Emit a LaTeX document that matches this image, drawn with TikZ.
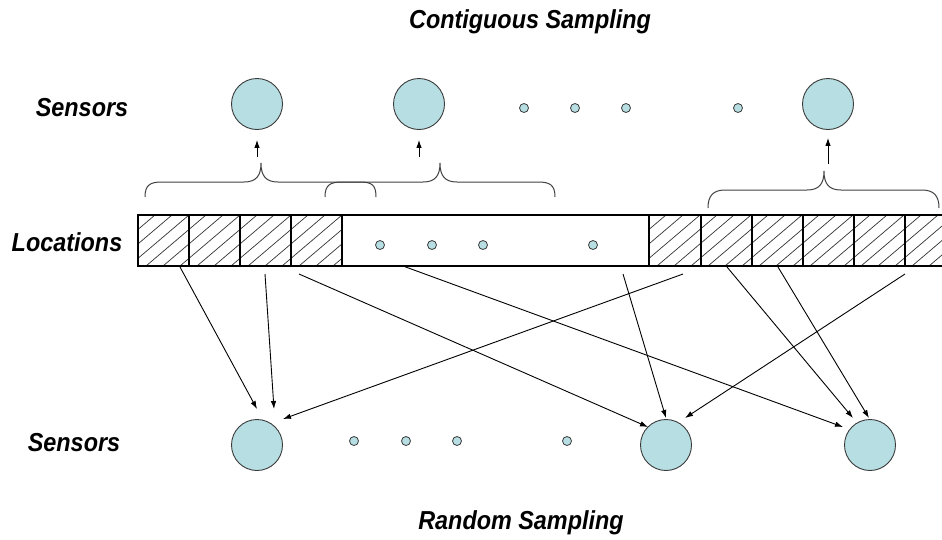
\documentclass[tikz,border=0pt]{standalone}
\usepackage{fontspec}
\usetikzlibrary{arrows.meta}
\newfontfamily\labfont{Liberation Sans}[FakeStretch=0.9]
\definecolor{sensorfill}{HTML}{B7DFE3}
\definecolor{sensoredge}{HTML}{3A3A3A}
\tikzset{
  lab/.style={font=\labfont\bfseries\itshape\fontsize{26}{26}\selectfont, inner sep=0pt},
  bigsensor/.style={circle, draw=sensoredge, line width=0.9pt, fill=sensorfill, minimum size=51pt, inner sep=0pt},
  smalldot/.style={circle, draw=sensoredge, line width=0.8pt, fill=sensorfill, minimum size=9pt, inner sep=0pt},
  arr/.style={draw=black, line width=0.9pt, -{Latex[length=8pt,width=5.5pt]}},
  bracepath/.style={draw=black!75, line width=1pt},
  strip/.style={draw=black, line width=1.1pt},
  hatch/.style={draw=black!80, line width=0.7pt}
}
\begin{document}
\begin{tikzpicture}[x=1pt,y=-1pt]
\useasboundingbox (0,0) rectangle (942,539);
% titles and labels
\node[lab] (title1) at (530,22) {Contiguous Sampling};
\node[lab] (sensTop) at (82,108) {Sensors};
\node[lab] (locs) at (67,242) {Locations};
\node[lab] (sensBot) at (74,443) {Sensors};
\node[lab] (title2) at (521,523) {Random Sampling};
% top sensors
\node[bigsensor] (t1) at (257,104) {};
\node[bigsensor] (t2) at (419,104) {};
\node[bigsensor] (t3) at (828,104) {};
\node[smalldot] (td1) at (524,108) {};
\node[smalldot] (td2) at (575,108) {};
\node[smalldot] (td3) at (626,108) {};
\node[smalldot] (td4) at (738,108) {};
% bottom sensors
\node[bigsensor] (b1) at (257,445) {};
\node[bigsensor] (b2) at (666,445) {};
\node[bigsensor] (b3) at (870,445) {};
\node[smalldot] (bd1) at (354,441) {};
\node[smalldot] (bd2) at (406,441) {};
\node[smalldot] (bd3) at (457,441) {};
\node[smalldot] (bd4) at (567,441) {};
% hatching
\begin{scope}
  \clip (138,215) rectangle (342,266);
  \foreach \x in {78,95,...,360} \draw[hatch] (\x,266) -- (\x+60,215);
\end{scope}
\begin{scope}
  \clip (649,215) rectangle (942,266);
  \foreach \x in {589,606,...,960} \draw[hatch] (\x,266) -- (\x+60,215);
\end{scope}
% strip
\draw[strip] (942,215) -- (138,215) -- (138,266) -- (942,266);
\foreach \x in {189,240,291,342,649,701,752,803,854,905}
  \draw[strip] (\x,215) -- (\x,266);
\node[smalldot] (ld1) at (380,245) {};
\node[smalldot] (ld2) at (432,245) {};
\node[smalldot] (ld3) at (483,245) {};
\node[smalldot] (ld4) at (593,245) {};
% braces
\draw[bracepath] (145,197) .. controls (145,185) and (150,182) .. (162,182) -- (244,182)
  .. controls (256,182) and (261,176) .. (261,163)
  .. controls (261,176) and (266,182) .. (278,182) -- (360,182)
  .. controls (372,182) and (376,185) .. (376,197);
\draw[bracepath] (325,197) .. controls (325,185) and (330,182) .. (342,182) -- (423,182)
  .. controls (435,182) and (440,176) .. (440,163)
  .. controls (440,176) and (445,182) .. (457,182) -- (538,182)
  .. controls (550,182) and (555,185) .. (555,197);
\draw[bracepath] (708,208) .. controls (708,196) and (713,190) .. (725,190) -- (807,190)
  .. controls (819,190) and (824,184) .. (824,171)
  .. controls (824,184) and (829,190) .. (841,190) -- (922,190)
  .. controls (934,190) and (939,196) .. (939,208);
% brace arrows
\coordinate (ua1) at (257,157);
\coordinate (ua2) at (419,157);
\coordinate (ua3) at (828,164);
\draw[arr, shorten >=10pt] (ua1) -- (t1);
\draw[arr, shorten >=10pt] (ua2) -- (t2);
\draw[arr, shorten >=8pt] (ua3) -- (t3);
% random sampling connectors
\coordinate (sA) at (180,267);
\coordinate (sB) at (265,274);
\coordinate (sC) at (299,274);
\coordinate (sD) at (403,266);
\coordinate (sE) at (683,274);
\coordinate (sF) at (623,274);
\coordinate (sG) at (727,267);
\coordinate (sH) at (778,267);
\coordinate (sI) at (905,274);
\draw[arr] (sA) -- ([shift={(0,-36)}]b1.center);
\draw[arr] (sB) -- ([shift={(17,-36)}]b1.center);
\draw[arr] (sE) -- ([shift={(26,-26)}]b1.center);
\draw[arr] (sC) -- ([shift={(-18,-18)}]b2.center);
\draw[arr] (sF) -- ([shift={(0,-27)}]b2.center);
\draw[arr] (sI) -- ([shift={(19,-27)}]b2.center);
\draw[arr] (sD) -- ([shift={(-27,-18)}]b3.center);
\draw[arr] (sG) -- ([shift={(-17,-27)}]b3.center);
\draw[arr] (sH) -- ([shift={(-1,-27)}]b3.center);
\end{tikzpicture}
\end{document}
